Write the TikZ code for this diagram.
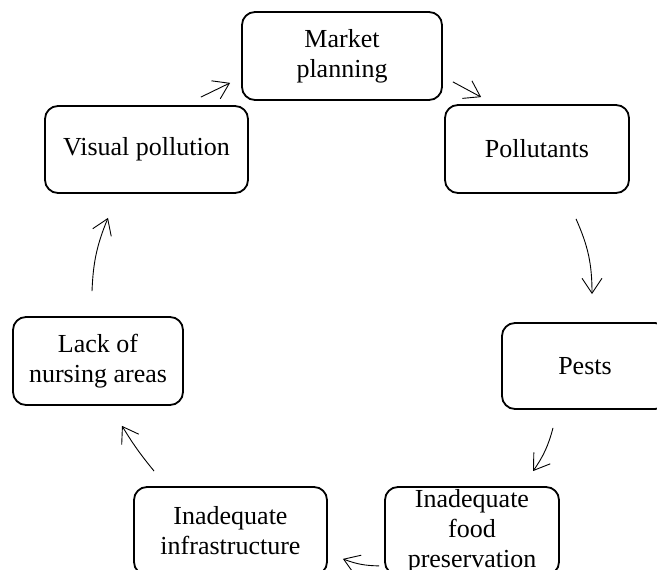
\documentclass[tikz,border=0pt]{standalone}
\usepackage{fontspec}
\setmainfont{Liberation Serif}
\usetikzlibrary{arrows.meta}

\begin{document}
\begin{tikzpicture}[x=1pt, y=1pt,
	box/.style={draw, line width=1.8pt, rounded corners=13pt, align=center, font=\fontsize{26}{30}\selectfont, inner sep=0pt},
	arrow/.style={line width=0.9pt, -{Straight Barb[length=15pt, width=20pt, line width=0.9pt]}}]
			%%%%% START %%%%%
			
			\useasboundingbox (0, 0) rectangle (657, 570);
			
			\node[box, minimum width=200, minimum height=88] (market) at (342, 514) {Market\\planning};
			\node[box, minimum width=184, minimum height=88] (pollut) at (537, 421) {Pollutants};
			\node[box, minimum width=166, minimum height=86] (pests) at (585, 204) {Pests};
			\node[box, minimum width=174, minimum height=88] (food) at (472, 39) {Inadequate\\food\\preservation};
			\node[box, minimum width=193, minimum height=88] (infra) at (230.5, 39) {Inadequate\\infrastructure};
			\node[box, minimum width=170, minimum height=88] (lack) at (98, 209) {Lack of\\nursing areas};
			\node[box, minimum width=203, minimum height=87] (visual) at (146.5, 420.5) {Visual pollution};
			
			\draw[arrow] ([shift={(-48, 8)}]visual.north east) -- ([shift={(-11, 18)}]market.south west);
			\draw[arrow] ([shift={(10, 19)}]market.south east) -- ([shift={(37, 7)}]pollut.north west);
			\draw[arrow] ([shift={(39, -25)}]pollut.south) to[bend left=12] ([shift={(7, 28)}]pests.north);
			\draw[arrow] ([shift={(-32, -18)}]pests.south) to[bend left=10] ([shift={(61, 15)}]food.north);
			\draw[arrow] ([shift={(-5, 10)}]food.south west) to[bend left=10] ([shift={(15, 17)}]infra.south east);
			\draw[arrow] ([shift={(21, 15)}]infra.north west) to[bend left=4] ([shift={(24, -20)}]lack.south);
			\draw[arrow] ([shift={(-6, 25)}]lack.north) to[bend left=10] ([shift={(-38.5, -24)}]visual.south);
			
			%%%%% END %%%%%
\end{tikzpicture}
\end{document}
